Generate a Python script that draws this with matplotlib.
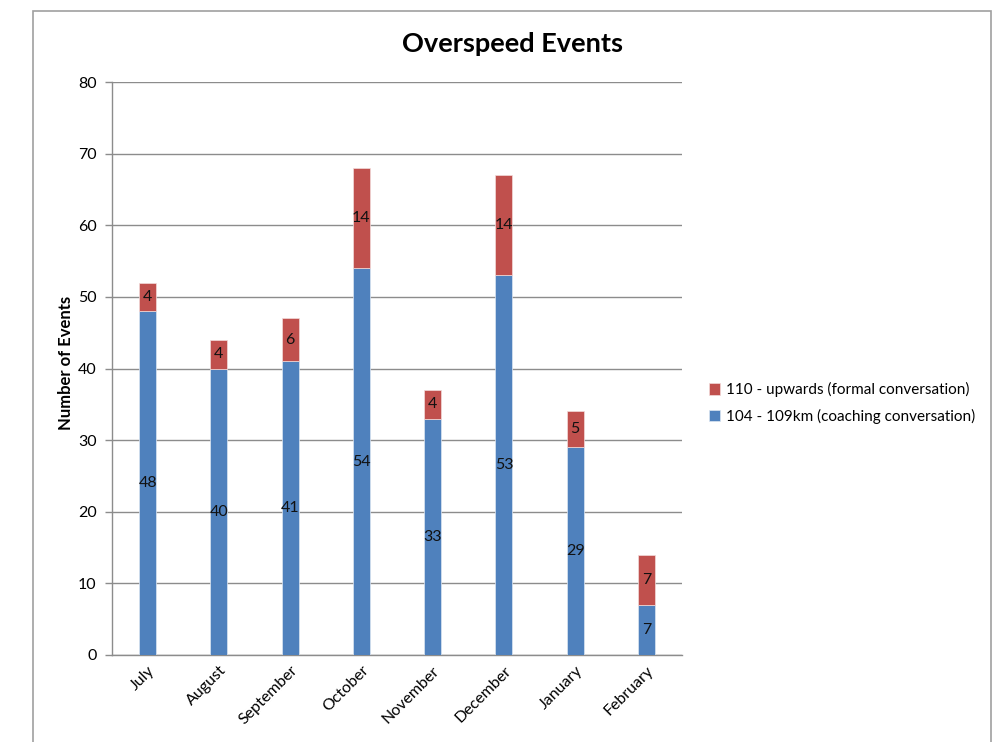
import matplotlib.pyplot as plt
from matplotlib.patches import Rectangle

months = ["July", "August", "September", "October", "November",
          "December", "January", "February"]
coaching = [48, 40, 41, 54, 33, 53, 29, 7]   # 104 - 109km
formal = [4, 4, 6, 14, 4, 14, 5, 7]          # 110 - upwards

plt.rcParams["font.family"] = ["Lato", "DejaVu Sans"]

blue = "#4F81BD"
red = "#C0504D"
grid = "#8C8C8C"

fig = plt.figure(figsize=(9.96, 7.42), dpi=100)
ax = fig.add_axes([112 / 996, 1 - 655 / 742, 570 / 996, 573 / 742])

# chart border, open at the bottom like the cropped sheet
fig.patches.append(Rectangle((33 / 996, -0.05), 958 / 996, 1.05 - 11 / 742,
                             transform=fig.transFigure, fill=False,
                             edgecolor="#A0A0A0", linewidth=1.2))

x = range(len(months))
b1 = ax.bar(x, coaching, width=0.24, color=blue, edgecolor="#DCE6F2",
            linewidth=0.5, label="104 - 109km (coaching conversation)", zorder=3)
b2 = ax.bar(x, formal, width=0.24, bottom=coaching, color=red,
            edgecolor="#F2DCDB", linewidth=0.5,
            label="110 - upwards (formal conversation)", zorder=3)

ax.bar_label(b1, labels=[str(v) for v in coaching], label_type="center",
             fontsize=11.5, color="#111111", zorder=4)
ax.bar_label(b2, labels=[str(v) for v in formal], label_type="center",
             fontsize=11.5, color="#111111", zorder=4)

ax.set_xlim(-0.5, len(months) - 0.5)
ax.set_ylim(0, 80)
ax.set_yticks(range(0, 81, 10))
ax.yaxis.grid(True, color=grid, linewidth=1.0, zorder=0)
ax.set_axisbelow(True)
ax.tick_params(axis="y", length=5, width=1.0, color=grid, labelsize=11.5,
               pad=6)
ax.tick_params(axis="x", length=0, labelsize=11.5, pad=6)
ax.set_xticks(list(x))
ax.set_xticklabels(months, rotation=45, ha="right", rotation_mode="anchor")

for side in ("top", "right"):
    ax.spines[side].set_visible(False)
for side in ("left", "bottom"):
    ax.spines[side].set_color(grid)
    ax.spines[side].set_linewidth(1.0)

ax.set_ylabel("Number of Events", fontsize=12, fontweight="bold")
ax.yaxis.set_label_coords(-0.066, 0.51)

fig.text(512 / 996, 1 - 44 / 742, "Overspeed Events", ha="center",
         va="center", fontsize=19.5, fontweight="bold")

handles = [b2, b1]
fig.legend(handles, [h.get_label() for h in handles], loc="center left",
           bbox_to_anchor=(695 / 996, 1 - 403 / 742), frameon=False,
           fontsize=11, handlelength=0.75, handleheight=0.75, handletextpad=0.4,
           labelspacing=0.75)

fig.savefig("out.png", dpi=100)
